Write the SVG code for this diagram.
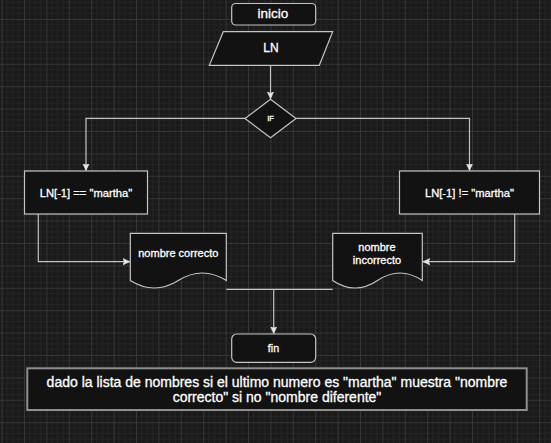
<svg xmlns="http://www.w3.org/2000/svg" width="551" height="443" viewBox="0 0 551 443">
  <style>
    .node { fill: #121212; stroke: #c4c4c4; stroke-width: 1.2; }
    .note { fill: #121212; stroke: #8e8e8e; stroke-width: 2; }
    .edge { fill: none; stroke: #c4c4c4; stroke-width: 1.2; }
    .lbl { fill: #ffffff; stroke: #ffffff; stroke-width: 0.3; font-family: "Liberation Sans", Arial, sans-serif; text-anchor: middle; }
  </style>
  <defs>
    <pattern id="grid" patternUnits="userSpaceOnUse" x="1.6" y="19" width="22.4" height="22.4">
      <rect width="22.4" height="22.4" fill="#1a1a1a"/>
      <path d="M5.6 0V22.4M11.2 0V22.4M16.8 0V22.4M0 5.6H22.4M0 11.2H22.4M0 16.8H22.4" stroke="#242424" stroke-width="1"/>
      <path d="M0.5 0V22.4M0 0.5H22.4" stroke="#363636" stroke-width="1"/>
    </pattern>
    <marker id="arr" markerUnits="userSpaceOnUse" markerWidth="10" markerHeight="10" refX="7" refY="4" orient="auto">
      <path d="M0,0.8 L7,4 L0,7.2 L1.6,4 Z" fill="#e6e6e6" stroke="#e6e6e6" stroke-width="0.6"/>
    </marker>
  </defs>
  <rect width="551" height="443" fill="url(#grid)"/>

  <g id="connectors">
    <path class="edge" d="M270.5 65.3V98.8" marker-end="url(#arr)"/>
    <path class="edge" d="M245 118.3H86V170.5" marker-end="url(#arr)"/>
    <path class="edge" d="M296 118.3H469.5V170.5" marker-end="url(#arr)"/>
    <path class="edge" d="M38.3 214V261.7H129.8" marker-end="url(#arr)"/>
    <path class="edge" d="M514.7 214V261.7H423" marker-end="url(#arr)"/>
    <path class="edge" d="M226.3 289.3H332.7"/>
    <path class="edge" d="M273.7 289.3V333.5" marker-end="url(#arr)"/>
  </g>

  <g id="inicio">
    <rect class="node" x="231.7" y="3.5" width="84" height="21.5" rx="4"/>
    <text class="lbl" x="273" y="17.6" font-size="13.5">inicio</text>
  </g>
  <g id="ln">
    <path class="node" d="M223.3 31.7H332.7L319.3 65.3H209.3Z"/>
    <text class="lbl" x="271" y="52.3" font-size="12">LN</text>
  </g>
  <g id="if">
    <path class="node" d="M270.5 99.3L296 118.5L270.5 137.7L245 118.5Z"/>
    <text class="lbl" x="270.5" y="120.8" font-size="7.5">IF</text>
  </g>
  <g id="cond-eq">
    <rect class="node" x="24.5" y="171" width="123" height="43"/>
    <text class="lbl" x="86" y="197" font-size="11.2">LN[-1] == "martha"</text>
  </g>
  <g id="cond-ne">
    <rect class="node" x="399.5" y="171" width="140" height="43"/>
    <text class="lbl" x="469.5" y="197" font-size="11.2">LN[-1] != "martha"</text>
  </g>
  <g id="doc-correcto">
    <path class="node" d="M130.3 233.3H226.3V280.5Q202.3 265.5 178.3 280.5T130.3 280.5Z"/>
    <text class="lbl" x="178.3" y="257.3" font-size="11">nombre correcto</text>
  </g>
  <g id="doc-incorrecto">
    <path class="node" d="M332.7 233.3H422.3V280.5Q399.9 265.5 377.5 280.5T332.7 280.5Z"/>
    <text class="lbl" x="377" y="250.7" font-size="11">nombre</text>
    <text class="lbl" x="377" y="264" font-size="11">incorrecto</text>
  </g>
  <g id="fin">
    <rect class="node" x="231.7" y="334" width="84" height="28.3" rx="5"/>
    <text class="lbl" x="273.5" y="351.7" font-size="10.7">fin</text>
  </g>
  <g id="nota">
    <rect class="note" x="27.3" y="368.3" width="499.4" height="41.7"/>
    <text class="lbl" x="277" y="386.6" font-size="14">dado la lista de nombres si el ultimo numero es "martha" muestra "nombre</text>
    <text class="lbl" x="277" y="402" font-size="14">correcto" si no "nombre diferente"</text>
  </g>
</svg>
